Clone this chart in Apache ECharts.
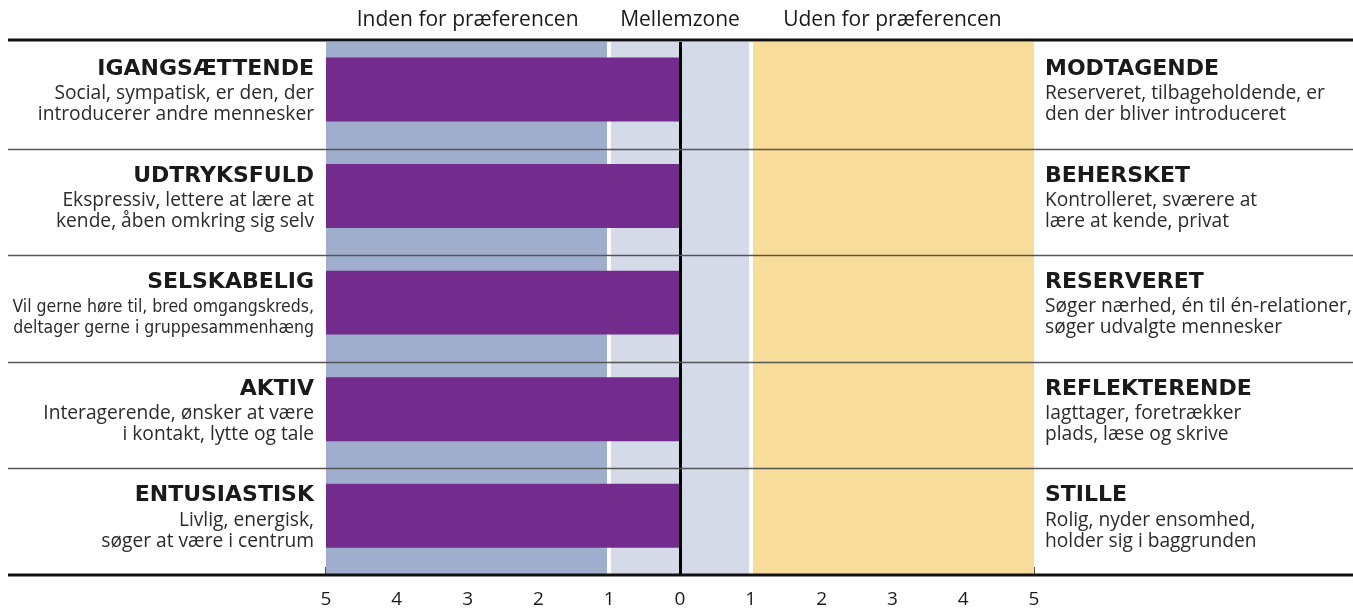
<!DOCTYPE html>
<html>
<head>
<meta charset="utf-8">
<script src="https://cdn.jsdelivr.net/npm/echarts@6/dist/echarts.min.js"></script>
<style>
html,body{margin:0;padding:0;background:#fff;}
#chart{width:1353px;height:612px;}
</style>
</head>
<body>
<div id="chart"></div>
<script>
// ---- data ----
const rowKeys = ['r1', 'r2', 'r3', 'r4', 'r5'];
const leftTitles = ['IGANGSÆTTENDE', 'UDTRYKSFULD', 'SELSKABELIG', 'AKTIV', 'ENTUSIASTISK'];
const leftLine1 = ['Social, sympatisk, er den, der', 'Ekspressiv, lettere at lære at', 'Vil gerne høre til, bred omgangskreds,', 'Interagerende, ønsker at være', 'Livlig, energisk,'];
const leftLine2 = ['introducerer andre mennesker', 'kende, åben omkring sig selv', 'deltager gerne i gruppesammenhæng', 'i kontakt, lytte og tale', 'søger at være i centrum'];
const rightTitles = ['MODTAGENDE', 'BEHERSKET', 'RESERVERET', 'REFLEKTERENDE', 'STILLE'];
const rightLine1 = ['Reserveret, tilbageholdende, er', 'Kontrolleret, sværere at', 'Søger nærhed, én til én-relationer,', 'Iagttager, foretrækker', 'Rolig, nyder ensomhed,'];
const rightLine2 = ['den der bliver introduceret', 'lære at kende, privat', 'søger udvalgte mennesker', 'plads, læse og skrive', 'holder sig i baggrunden'];
const condensedRows = [false, false, true, false, false];
// score toward the left-hand trait (bar runs from 0 to -score)
const leftScores = [5, 5, 5, 5, 5];
const zoneFrom = [-5, -1, 0, 1];
const zoneTo = [-1, 0, 1, 5];
const zoneColors = ['#a0aecd', '#d4dae8', '#d4dae8', '#f8dc99'];
const headerLabels = ['Inden for præferencen', 'Mellemzone', 'Uden for præferencen'];
const headerPos = [-3, 0, 3];
const dividerValues = [-1, 1];

const FONT = '"Open Sans", "Noto Sans", sans-serif';
const TFONT = '"DejaVu Sans", "Open Sans", sans-serif';

// pick an installed narrow font for the condensed row
function fontAvailable(name) {
  const ctx = document.createElement('canvas').getContext('2d');
  const s = 'Vil gerne høre til, bred omgangskreds';
  ctx.font = '20px monospace';
  const w1 = ctx.measureText(s).width;
  ctx.font = '20px "' + name + '", monospace';
  const w2 = ctx.measureText(s).width;
  return Math.abs(w1 - w2) > 0.5;
}
let condFont = FONT, condSize = 16, condWeight = 'normal';
if (fontAvailable('Liberation Sans Narrow')) { condFont = '"Liberation Sans Narrow"'; condSize = 20; }
else if (fontAvailable('DejaVu Sans Condensed')) { condFont = '"DejaVu Sans Condensed"'; condSize = 17.5; }

const chart = echarts.init(document.getElementById('chart'));

const GRID = {left: 326, right: 319, top: 42, bottom: 37, outerBoundsMode: 'none', containLabel: false};

function labelRich(align) {
  return {
    t: {fontFamily: TFONT, fontWeight: 'bold', fontSize: 22, color: '#1a1a1a', lineHeight: 28, align: align},
    d: {fontFamily: FONT, fontSize: 19.2, color: '#2b2b2b', lineHeight: 21, align: align},
    c: {fontFamily: condFont, fontWeight: condWeight, fontSize: condSize, color: '#2b2b2b', lineHeight: 21, align: align}
  };
}

const option = {
  animation: false,
  backgroundColor: '#ffffff',
  grid: GRID,
  xAxis: {
    type: 'value', min: -5, max: 5, interval: 1,
    axisLine: {show: false},
    axisTick: {show: true, inside: true, length: 8, lineStyle: {color: '#1a1a1a', width: 1.5}},
    splitLine: {show: false},
    axisLabel: {
      margin: 15, fontFamily: FONT, fontSize: 19, color: '#1a1a1a',
      formatter: v => String(Math.abs(v))
    }
  },
  yAxis: [{
    type: 'category', data: rowKeys, inverse: true,
    axisLine: {show: false}, axisTick: {show: false}, splitLine: {show: false},
    axisLabel: {
      margin: 12, padding: [0, 0, 10, 0],
      formatter: (v, i) => `{t|${leftTitles[i]}}\n{${condensedRows[i] ? 'c' : 'd'}|${leftLine1[i]}}\n{${condensedRows[i] ? 'c' : 'd'}|${leftLine2[i]}}`,
      rich: labelRich('right')
    }
  }, {
    type: 'category', data: rowKeys, inverse: true, position: 'right',
    axisLine: {show: false}, axisTick: {show: false}, splitLine: {show: false},
    axisLabel: {
      margin: 11, padding: [0, 0, 10, 0],
      formatter: (v, i) => `{t|${rightTitles[i]}}\n{d|${rightLine1[i]}}\n{d|${rightLine2[i]}}`,
      rich: labelRich('left')
    }
  }],
  series: [{
    type: 'line', data: [], z: 1,
    markArea: {
      silent: true, z: 1,
      data: zoneFrom.map((f, i) => [{xAxis: f, itemStyle: {color: zoneColors[i]}}, {xAxis: zoneTo[i]}])
    },
    markLine: {
      silent: true, z: 2, symbol: 'none', label: {show: false},
      lineStyle: {color: '#ffffff', width: 4, type: 'solid'},
      data: dividerValues.map(v => ({xAxis: v}))
    }
  }, {
    type: 'custom', z: 3,
    data: leftScores.map((s, i) => [-s, i]),
    renderItem: function (params, api) {
      const band = api.size([0, 1])[1];
      const a = api.coord([api.value(0), api.value(1)]);
      const b = api.coord([0, api.value(1)]);
      const h = band * 0.6;
      const cy = a[1] - band * 0.055;
      return {
        type: 'rect',
        shape: {x: a[0], y: cy - h / 2, width: b[0] - a[0], height: h},
        style: {fill: '#732b8d'}
      };
    }
  }, {
    type: 'line', data: [], z: 6,
    markLine: {
      silent: true, z: 6, symbol: 'none', label: {show: false},
      lineStyle: {color: '#000000', width: 3, type: 'solid'},
      data: [{xAxis: 0}]
    }
  }]
};
chart.setOption(option);

// decorations placed from the chart's own scales
const centers = rowKeys.map(k => chart.convertToPixel({yAxisIndex: 0}, k));
const band = centers[1] - centers[0];
const topY = centers[0] - band / 2;
const botY = centers[centers.length - 1] + band / 2;
const graphics = [];
graphics.push({type: 'line', z: 10, shape: {x1: 8, y1: topY - 2, x2: 1353, y2: topY - 2}, style: {stroke: '#111', lineWidth: 3}});
graphics.push({type: 'line', z: 10, shape: {x1: 8, y1: botY, x2: 1353, y2: botY}, style: {stroke: '#111', lineWidth: 3}});
for (let i = 1; i < centers.length; i++) {
  const y = Math.round((centers[i - 1] + centers[i]) / 2) + 0.5;
  graphics.push({type: 'line', z: 10, shape: {x1: 8, y1: y, x2: 1353, y2: y}, style: {stroke: '#555', lineWidth: 1.5}});
}
headerLabels.forEach((t, i) => {
  const x = chart.convertToPixel({xAxisIndex: 0}, headerPos[i]);
  graphics.push({type: 'text', z: 10, x: x, y: 20, style: {text: t, fontFamily: FONT, fontSize: 21, fill: '#1a1a1a', align: 'center', verticalAlign: 'middle'}});
});
chart.setOption({graphic: graphics});
</script>
</body>
</html>
